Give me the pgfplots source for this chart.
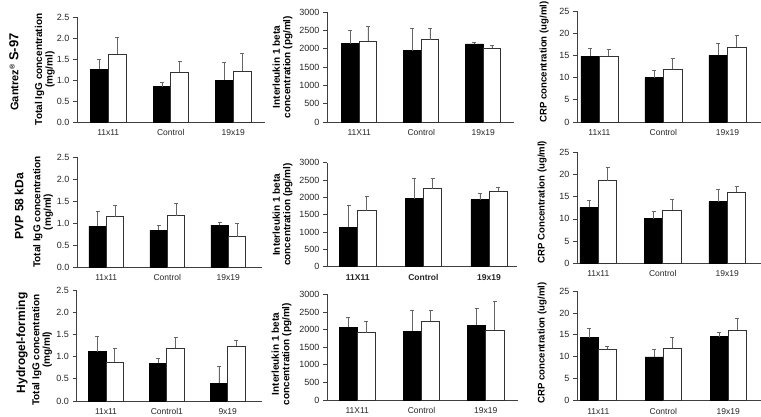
\documentclass[border=0pt]{standalone}
\usepackage{fontspec}
\setmainfont{Liberation Sans}
\usepackage{pgfplots}
\pgfplotsset{compat=1.18}
\definecolor{axgray}{gray}{0.25}
\definecolor{errgray}{gray}{0.4}
\pgfplotsset{
  panel/.style={
    scale only axis, ybar=0pt, ymin=0,
    axis x line=bottom, axis y line=left,
    axis line style={axgray, line width=0.8pt, -},
    xtick={0,1,2}, xtick style={draw=none},
    ytick style={axgray, line width=0.8pt},
    tick align=outside, major tick length=4pt,
    /pgf/number format/assume math mode=true,
    /pgf/number format/1000 sep={},
    yticklabel style={font=\fontsize{9}{10}\selectfont, text=black!85},
    xticklabel style={font=\fontsize{8.5}{10}\selectfont, text=black!85},
    ylabel style={font=\bfseries\fontsize{10}{10.5}\selectfont, align=center, anchor=center},
    clip=false, anchor=south west,
  },
  igg/.style={ymax=2.5, ytick={0,0.5,...,2.5},
    yticklabel style={/pgf/number format/.cd, fixed, fixed zerofill, precision=1},
    ylabel={Total IgG concentration\\(mg/ml)}},
  il/.style={ymax=3000, ytick={0,500,...,3000},
    ylabel={Interleukin 1 beta\\concentration (pg/ml)}},
  crp/.style={ymax=25, ytick={0,5,...,25},
    ylabel style={font=\bfseries\fontsize{9.6}{10.5}\selectfont}},
  blk/.style={fill=black, draw=black, line width=0.5pt,
    error bars/.cd, y dir=plus, y explicit,
    error bar style={errgray, line width=0.8pt},
    error mark options={errgray, line width=0.8pt, mark size=2pt, rotate=90}},
  wht/.style={fill=white, draw=black!80, line width=0.8pt,
    error bars/.cd, y dir=plus, y explicit,
    error bar style={errgray, line width=0.8pt},
    error mark options={errgray, line width=0.8pt, mark size=2pt, rotate=90}},
}
\begin{document}
\begin{tikzpicture}
\useasboundingbox (0,0) rectangle (761pt,416pt);
% Row titles
\node[rotate=90, font=\bfseries] at (14pt,344pt) {\fontsize{11}{12}\selectfont Gantrez\textsuperscript{\fontsize{7}{8}\selectfont\textregistered}\ \fontsize{13}{14}\selectfont S-97};
\node[rotate=90, font=\bfseries\fontsize{12}{13}\selectfont] at (19pt,210pt) {PVP 58 kDa};
\node[rotate=90, font=\bfseries\fontsize{12}{13}\selectfont] at (22pt,73pt) {Hydrogel-forming};

% ---------- Row 1 ----------
\begin{axis}[panel, igg, at={(77pt,294pt)}, width=187.5pt, height=105pt,
  xmin=-0.5, xmax=2.5, bar width=17.7pt, xticklabels={11x11,Control,19x19},
  ylabel style={at={(axis description cs:-0.171,0.5)}}]
\addplot[blk] table[x=x,y=y,y error=e,row sep=\\]{x y e\\ 0 1.26 0.23\\ 1 0.84 0.11\\ 2 0.99 0.44\\};
\addplot[wht] table[x=x,y=y,y error=e,row sep=\\]{x y e\\ 0 1.61 0.41\\ 1 1.18 0.26\\ 2 1.21 0.42\\};
\end{axis}

\begin{axis}[panel, il, at={(327pt,294pt)}, width=187.2pt, height=110pt,
  xmin=-0.52, xmax=2.5, bar width=17.5pt, xticklabels={11X11,Control,19x19},
  ylabel style={at={(axis description cs:-0.238,0.5)}}]
\addplot[blk] table[x=x,y=y,y error=e,row sep=\\]{x y e\\ 0 2140 350\\ 1 1950 590\\ 2 2130 50\\};
\addplot[wht] table[x=x,y=y,y error=e,row sep=\\]{x y e\\ 0 2200 420\\ 1 2240 300\\ 2 2020 80\\};
\end{axis}

\begin{axis}[panel, crp, at={(577pt,294pt)}, width=184pt, height=111pt,
  xmin=-0.35, xmax=2.525, bar width=18.5pt, xticklabels={11x11,Control,19x19},
  ylabel={CRP concentration (ug/ml)},
  ylabel style={at={(axis description cs:-0.179,0.54)}}]
\addplot[blk] table[x=x,y=y,y error=e,row sep=\\]{x y e\\ 0 14.8 1.7\\ 1 10.0 1.6\\ 2 15.0 2.6\\};
\addplot[wht] table[x=x,y=y,y error=e,row sep=\\]{x y e\\ 0 14.8 1.5\\ 1 11.9 2.5\\ 2 16.8 2.6\\};
\end{axis}

% ---------- Row 2 ----------
\begin{axis}[panel, igg, at={(77pt,149pt)}, width=184.8pt, height=110pt,
  xmin=-0.48, xmax=2.55, bar width=17.5pt, xticklabels={11x11,Control,19x19},
  ylabel style={at={(axis description cs:-0.184,0.5)}}]
\addplot[blk] table[x=x,y=y,y error=e,row sep=\\]{x y e\\ 0 0.93 0.34\\ 1 0.84 0.11\\ 2 0.95 0.06\\};
\addplot[wht] table[x=x,y=y,y error=e,row sep=\\]{x y e\\ 0 1.14 0.25\\ 1 1.17 0.28\\ 2 0.69 0.29\\};
\end{axis}

\begin{axis}[panel, il, at={(327pt,149.3pt)}, width=190.3pt, height=104pt,
  xmin=-0.467, xmax=2.43, bar width=18.3pt,
  xticklabels={\textbf{11X11},\textbf{Control},\textbf{19x19}},
  ylabel style={at={(axis description cs:-0.234,0.5)}}]
\addplot[blk] table[x=x,y=y,y error=e,row sep=\\]{x y e\\ 0 1145 615\\ 1 1962 576\\ 2 1933 193\\};
\addplot[wht] table[x=x,y=y,y error=e,row sep=\\]{x y e\\ 0 1615 425\\ 1 2250 288\\ 2 2173 127\\};
\end{axis}

\begin{axis}[panel, crp, at={(577pt,152.7pt)}, width=183.8pt, height=111pt,
  xmin=-0.33, xmax=2.52, bar width=18.5pt, xticklabels={11x11,Control,19x19},
  ylabel={CRP Concentration (ug/ml)},
  ylabel style={at={(axis description cs:-0.19,0.55)}}]
\addplot[blk] table[x=x,y=y,y error=e,row sep=\\]{x y e\\ 0 12.6 1.6\\ 1 10.05 1.75\\ 2 13.9 2.8\\};
\addplot[wht] table[x=x,y=y,y error=e,row sep=\\]{x y e\\ 0 18.6 3.1\\ 1 11.9 2.4\\ 2 16.0 1.3\\};
\end{axis}

% ---------- Row 3 ----------
\begin{axis}[panel, igg, at={(76.5pt,15pt)}, width=185.3pt, height=111pt,
  xmin=-0.485, xmax=2.56, bar width=17.5pt, xticklabels={11x11,Control1,9x19},
  ylabel style={at={(axis description cs:-0.186,0.46)}}]
\addplot[blk] table[x=x,y=y,y error=e,row sep=\\]{x y e\\ 0 1.11 0.35\\ 1 0.85 0.11\\ 2 0.40 0.39\\};
\addplot[wht] table[x=x,y=y,y error=e,row sep=\\]{x y e\\ 0 0.87 0.32\\ 1 1.19 0.24\\ 2 1.24 0.13\\};
\end{axis}

\begin{axis}[panel, il, at={(327pt,16pt)}, width=190.8pt, height=105.7pt,
  xmin=-0.472, xmax=2.5, bar width=18.2pt, xticklabels={11X11,Control,19x19},
  ylabel style={at={(axis description cs:-0.238,0.435)}}]
\addplot[blk] table[x=x,y=y,y error=e,row sep=\\]{x y e\\ 0 2066 275\\ 1 1953 597\\ 2 2123 464\\};
\addplot[wht] table[x=x,y=y,y error=e,row sep=\\]{x y e\\ 0 1905 332\\ 1 2237 303\\ 2 1981 819\\};
\end{axis}

\begin{axis}[panel, crp, at={(577pt,15.3pt)}, width=183.8pt, height=109.7pt,
  xmin=-0.328, xmax=2.5, bar width=18.3pt, xticklabels={11x11,Control,19x19},
  ylabel={CRP concentration (ug/ml)},
  ylabel style={at={(axis description cs:-0.19,0.526)}}]
\addplot[blk] table[x=x,y=y,y error=e,row sep=\\]{x y e\\ 0 14.35 2.15\\ 1 10.0 1.7\\ 2 14.6 0.9\\};
\addplot[wht] table[x=x,y=y,y error=e,row sep=\\]{x y e\\ 0 11.7 0.6\\ 1 11.9 2.5\\ 2 16.1 2.7\\};
\end{axis}
\end{tikzpicture}
\end{document}
